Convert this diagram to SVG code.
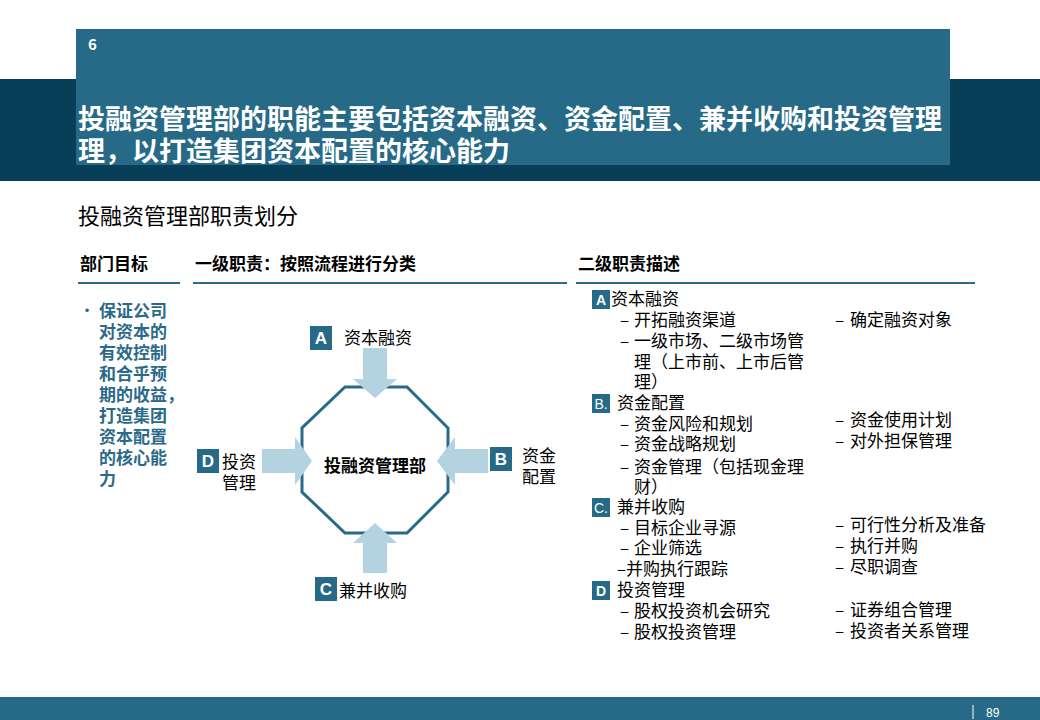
<svg xmlns="http://www.w3.org/2000/svg" width="1040" height="720" viewBox="0 0 1040 720">
<style>
text{font-family:"Noto Sans CJK SC","Liberation Sans",sans-serif;fill:#000}
.w{fill:#fff}
.h{font-size:17px;font-weight:bold}
.b{font-size:17px;font-weight:bold;fill:#2a6a88}
.r{font-size:17px}
.lbl{font-size:17px}
.box{fill:#266a87}
.arr{fill:#b3d3e0}
.bl{font-family:"Liberation Sans",sans-serif;font-weight:bold;font-size:17px;fill:#fff}
</style>
<rect x="0" y="79" width="1040" height="102" fill="#073f58"/>
<rect x="76" y="29" width="874" height="136" fill="#266a87"/>
<text x="88" y="50" class="w" style="font-size:15px;font-weight:bold">6</text>
<text x="78" y="129" class="w" style="font-size:27px;font-weight:bold">投融资管理部的职能主要包括资本融资、资金配置、兼并收购和投资管理</text>
<text x="78" y="161" class="w" style="font-size:27px;font-weight:bold">理，以打造集团资本配置的核心能力</text>
<text x="78" y="224" style="font-size:22px">投融资管理部职责划分</text>
<text x="80" y="270" class="h">部门目标</text>
<text x="195" y="270" class="h">一级职责：按照流程进行分类</text>
<text x="578" y="270" class="h">二级职责描述</text>
<g stroke="#2a6a88" stroke-width="2"><line x1="78" y1="283" x2="180" y2="283"/><line x1="193" y1="283" x2="567" y2="283"/><line x1="576" y1="283" x2="975" y2="283"/></g>
<g id="goal">
<text x="79" y="316" style="font-size:16px;fill:#2a6a88">•</text>
<text class="b"><tspan x="99" y="317">保证公司</tspan><tspan x="99" y="338">对资本的</tspan><tspan x="99" y="359">有效控制</tspan><tspan x="99" y="380">和合乎预</tspan><tspan x="99" y="401">期的收益，</tspan><tspan x="99" y="422">打造集团</tspan><tspan x="99" y="443">资本配置</tspan><tspan x="99" y="464">的核心能</tspan><tspan x="99" y="485">力</tspan></text>
</g>
<g id="center">
<polygon points="345,387 407,387 448,428 448,492 407,533 345,533 302,492 302,428" fill="none" stroke="#2a6a88" stroke-width="3"/>
<text x="375" y="472" text-anchor="middle" style="font-size:17px;font-weight:bold">投融资管理部</text>
</g>
<g id="connectors">
<polygon class="arr" points="363,348 387,348 387,379 397,379 375,398 353,379 363,379"/>
<polygon class="arr" points="363,573 387,573 387,543 397,543 375,523 353,543 363,543"/>
<polygon class="arr" points="262,449 295,449 295,437 312,461 295,485 295,473 262,473"/>
<polygon class="arr" points="488,449 455,449 455,437 437,461 455,485 455,473 488,473"/>
</g>
<g id="nodeA"><rect class="box" x="310" y="326" width="22" height="24"/><text x="321" y="344" class="bl" text-anchor="middle">A</text><text x="344" y="344" class="lbl">资本融资</text></g>
<g id="nodeB"><rect class="box" x="490" y="447" width="22" height="24"/><text x="501" y="465" class="bl" text-anchor="middle">B</text><text x="522" y="462" class="lbl">资金</text><text x="522" y="483" class="lbl">配置</text></g>
<g id="nodeD"><rect class="box" x="197" y="449" width="22" height="24"/><text x="208" y="467" class="bl" text-anchor="middle">D</text><text x="222" y="468" class="lbl">投资</text><text x="222" y="489" class="lbl">管理</text></g>
<g id="nodeC"><rect class="box" x="315" y="577" width="22" height="24"/><text x="326" y="595" class="bl" text-anchor="middle">C</text><text x="339" y="597" class="lbl">兼并收购</text></g>
<g id="desc">
<rect class="box" x="592" y="290" width="18" height="19"/><text x="601" y="305" class="bl" style="font-size:14px" text-anchor="middle">A</text><text x="611" y="305" class="r">资本融资</text>
<text class="r"><tspan x="620" y="326">–</tspan><tspan x="634" y="326">开拓融资渠道</tspan><tspan x="620" y="347">–</tspan><tspan x="634" y="347">一级市场、二级市场管</tspan><tspan x="634" y="368">理（上市前、上市后管</tspan><tspan x="634" y="388">理）</tspan></text>
<text class="r"><tspan x="835" y="326">–</tspan><tspan x="850" y="326">确定融资对象</tspan></text>
<rect class="box" x="592" y="394" width="18" height="19"/><text x="601" y="409" class="w" style="font-size:14px;font-family:Liberation Sans,sans-serif" text-anchor="middle">B.</text><text x="617" y="409" class="r">资金配置</text>
<text class="r"><tspan x="620" y="430">–</tspan><tspan x="634" y="430">资金风险和规划</tspan><tspan x="620" y="450">–</tspan><tspan x="634" y="450">资金战略规划</tspan><tspan x="620" y="473">–</tspan><tspan x="634" y="473">资金管理（包括现金理</tspan><tspan x="634" y="493">财）</tspan></text>
<text class="r"><tspan x="835" y="426">–</tspan><tspan x="850" y="426">资金使用计划</tspan><tspan x="835" y="447">–</tspan><tspan x="850" y="447">对外担保管理</tspan></text>
<rect class="box" x="592" y="498" width="18" height="19"/><text x="601" y="513" class="w" style="font-size:14px;font-family:Liberation Sans,sans-serif" text-anchor="middle">C.</text><text x="617" y="513" class="r">兼并收购</text>
<text class="r"><tspan x="620" y="534">–</tspan><tspan x="634" y="534">目标企业寻源</tspan><tspan x="620" y="554">–</tspan><tspan x="634" y="554">企业筛选</tspan><tspan x="617" y="575">–并购执行跟踪</tspan></text>
<text class="r"><tspan x="835" y="531">–</tspan><tspan x="850" y="531">可行性分析及准备</tspan><tspan x="835" y="552">–</tspan><tspan x="850" y="552">执行并购</tspan><tspan x="835" y="573">–</tspan><tspan x="850" y="573">尽职调查</tspan></text>
<rect class="box" x="592" y="581" width="18" height="19"/><text x="601" y="596" class="bl" style="font-size:14px" text-anchor="middle">D</text><text x="617" y="596" class="r">投资管理</text>
<text class="r"><tspan x="620" y="617">–</tspan><tspan x="634" y="617">股权投资机会研究</tspan><tspan x="620" y="638">–</tspan><tspan x="634" y="638">股权投资管理</tspan></text>
<text class="r"><tspan x="835" y="616">–</tspan><tspan x="850" y="616">证券组合管理</tspan><tspan x="835" y="637">–</tspan><tspan x="850" y="637">投资者关系管理</tspan></text>
</g>
<rect x="0" y="697" width="1040" height="23" fill="#266a87"/>
<line x1="973" y1="705" x2="973" y2="719" stroke="#fff" stroke-width="1"/>
<text x="986" y="717" class="w" style="font-size:12px;font-family:Liberation Sans,sans-serif">89</text>
</svg>
